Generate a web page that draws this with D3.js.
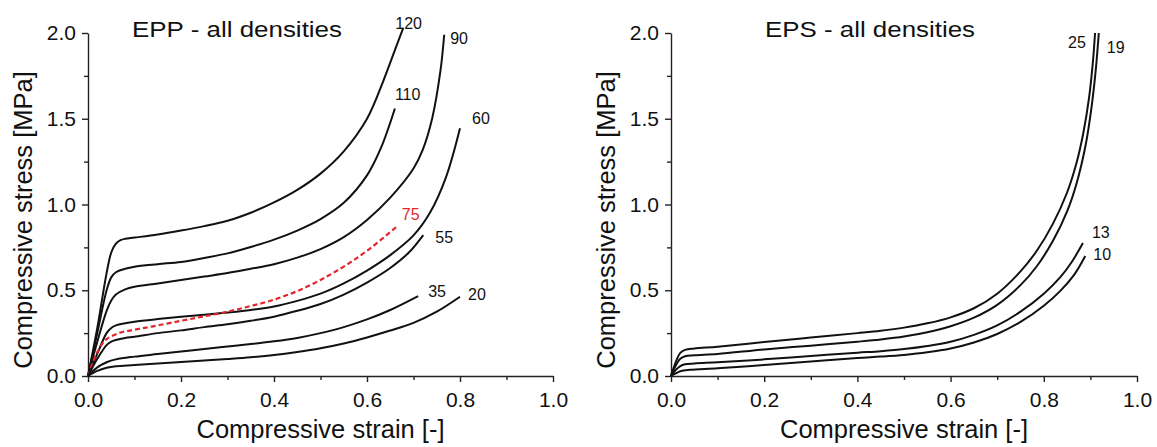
<!DOCTYPE html>
<html>
<head>
<meta charset="utf-8">
<script src="https://cdn.jsdelivr.net/npm/d3@7"></script>
<style>
  body { margin: 0; background: #fff; }
  svg { display: block; }
  text { font-family: "Liberation Sans", Arial, sans-serif; fill: #111; }
</style>
</head>
<body>
<svg id="chart" width="1157" height="447"></svg>
<script>
// Axis ticks
const strainTicks = [0, 0.2, 0.4, 0.6, 0.8, 1.0];
const strainMinorTicks = [0.1, 0.3, 0.5, 0.7, 0.9];
const stressTicks = [0, 0.5, 1.0, 1.5, 2.0];
const stressMinorTicks = [0.25, 0.75, 1.25, 1.75];

// EPP compression curves, [strain, stress MPa], one per density (kg/m3)
const epp120 = [[0,0],[0.02,0.28],[0.04,0.6],[0.05,0.72],[0.06,0.772],[0.07,0.792],[0.08,0.80],[0.1,0.807],[0.15,0.825],[0.2,0.848],[0.25,0.874],[0.3,0.905],[0.35,0.952],[0.4,1.012],[0.45,1.085],[0.5,1.18],[0.55,1.31],[0.6,1.5],[0.635,1.72],[0.66,1.9],[0.678,2.03]];
const epp110 = [[0,0],[0.02,0.25],[0.04,0.5],[0.05,0.575],[0.06,0.605],[0.08,0.625],[0.1,0.637],[0.15,0.652],[0.2,0.665],[0.25,0.688],[0.3,0.715],[0.35,0.752],[0.4,0.795],[0.45,0.848],[0.5,0.915],[0.55,1.01],[0.6,1.17],[0.63,1.33],[0.66,1.56]];
const epp90 = [[0,0],[0.02,0.2],[0.04,0.38],[0.05,0.44],[0.06,0.475],[0.08,0.505],[0.1,0.52],[0.15,0.54],[0.2,0.56],[0.25,0.58],[0.3,0.60],[0.35,0.625],[0.4,0.652],[0.45,0.69],[0.5,0.74],[0.55,0.81],[0.6,0.91],[0.65,1.04],[0.7,1.21],[0.72,1.32],[0.74,1.5],[0.758,1.78],[0.766,1.99]];
const epp60 = [[0,0],[0.02,0.13],[0.04,0.25],[0.05,0.28],[0.06,0.295],[0.08,0.308],[0.1,0.317],[0.15,0.332],[0.2,0.345],[0.25,0.357],[0.3,0.37],[0.35,0.385],[0.4,0.405],[0.45,0.438],[0.5,0.48],[0.55,0.54],[0.6,0.615],[0.65,0.705],[0.7,0.82],[0.735,0.95],[0.77,1.16],[0.8,1.444]];
const epp75 = [[0,0],[0.015,0.11],[0.03,0.185],[0.04,0.215],[0.065,0.249],[0.1,0.27],[0.137,0.288],[0.2,0.322],[0.25,0.348],[0.3,0.375],[0.35,0.408],[0.4,0.445],[0.45,0.495],[0.5,0.56],[0.55,0.638],[0.6,0.73],[0.664,0.871]];
const epp55 = [[0,0],[0.02,0.1],[0.04,0.18],[0.05,0.2],[0.06,0.21],[0.08,0.222],[0.1,0.229],[0.15,0.25],[0.2,0.266],[0.25,0.285],[0.3,0.302],[0.35,0.322],[0.4,0.346],[0.45,0.38],[0.5,0.42],[0.55,0.475],[0.6,0.545],[0.65,0.63],[0.69,0.72],[0.721,0.822]];
const epp35 = [[0,0],[0.02,0.05],[0.04,0.08],[0.06,0.097],[0.1,0.113],[0.15,0.128],[0.2,0.143],[0.25,0.158],[0.3,0.172],[0.35,0.186],[0.4,0.202],[0.45,0.222],[0.5,0.25],[0.55,0.285],[0.6,0.33],[0.65,0.385],[0.71,0.466]];
const epp20 = [[0,0],[0.02,0.03],[0.04,0.048],[0.06,0.057],[0.1,0.064],[0.15,0.073],[0.2,0.081],[0.25,0.09],[0.3,0.099],[0.35,0.109],[0.4,0.122],[0.45,0.14],[0.5,0.162],[0.55,0.19],[0.6,0.225],[0.65,0.265],[0.7,0.31],[0.75,0.375],[0.8,0.462]];

// EPS compression curves
const eps25 = [[0,0],[0.01,0.08],[0.02,0.135],[0.03,0.152],[0.05,0.16],[0.1,0.171],[0.2,0.198],[0.3,0.224],[0.4,0.25],[0.45,0.264],[0.5,0.282],[0.55,0.307],[0.6,0.342],[0.65,0.395],[0.7,0.48],[0.75,0.61],[0.785,0.73],[0.82,0.89],[0.85,1.07],[0.87,1.24],[0.885,1.42],[0.897,1.62],[0.905,1.82],[0.91,2.0]];
const eps19 = [[0,0],[0.01,0.06],[0.02,0.1],[0.03,0.115],[0.05,0.121],[0.1,0.128],[0.2,0.155],[0.3,0.177],[0.4,0.2],[0.45,0.213],[0.5,0.23],[0.55,0.255],[0.6,0.29],[0.65,0.34],[0.7,0.415],[0.75,0.53],[0.785,0.64],[0.82,0.79],[0.85,0.96],[0.87,1.12],[0.89,1.35],[0.903,1.58],[0.912,1.8],[0.918,2.0]];
const eps13 = [[0,0],[0.01,0.035],[0.02,0.058],[0.03,0.068],[0.05,0.073],[0.1,0.08],[0.2,0.097],[0.3,0.117],[0.4,0.136],[0.45,0.145],[0.5,0.157],[0.55,0.175],[0.6,0.2],[0.65,0.24],[0.7,0.295],[0.75,0.375],[0.8,0.48],[0.835,0.575],[0.86,0.665],[0.884,0.775]];
const eps10 = [[0,0],[0.01,0.015],[0.02,0.028],[0.04,0.036],[0.1,0.045],[0.2,0.064],[0.3,0.084],[0.4,0.105],[0.45,0.113],[0.5,0.123],[0.55,0.138],[0.6,0.16],[0.65,0.195],[0.7,0.245],[0.75,0.315],[0.8,0.41],[0.835,0.495],[0.865,0.59],[0.889,0.70]];

const eppSeries = [
  { name: "120", values: epp120 },
  { name: "110", values: epp110 },
  { name: "90",  values: epp90 },
  { name: "60",  values: epp60 },
  { name: "75",  values: epp75, dashed: true },
  { name: "55",  values: epp55 },
  { name: "35",  values: epp35 },
  { name: "20",  values: epp20 }
];
const epsSeries = [
  { name: "25", values: eps25 },
  { name: "19", values: eps19 },
  { name: "13", values: eps13 },
  { name: "10", values: eps10 }
];

// Label placement relative to each curve's last point (px)
const labelOffsets = {
  "120": [-8, 1], "110": [0, -8], "90": [6, 9], "60": [12, -4],
  "75": [5, -7], "55": [12, 8], "35": [10, 1], "20": [8, 3],
  "25": [-27, 15], "19": [8, 20], "13": [9, -5], "10": [8, 4]
};

const svg = d3.select("#chart");
const FONT = '"Liberation Sans", Arial, sans-serif';

function drawPanel(cfg) {
  const x = d3.scaleLinear().domain([0, 1]).range([cfg.left, cfg.right]);
  const y = d3.scaleLinear().domain([0, 2]).range([cfg.bottom, cfg.top]);
  const g = svg.append("g");

  // minor ticks
  g.append("g").attr("transform", `translate(0,${cfg.bottom})`)
    .call(d3.axisBottom(x).tickValues(strainMinorTicks).tickSize(4).tickSizeOuter(0).tickFormat(""))
    .call(a => a.select(".domain").remove());
  g.append("g").attr("transform", `translate(${cfg.left},0)`)
    .call(d3.axisLeft(y).tickValues(stressMinorTicks).tickSize(4).tickSizeOuter(0).tickFormat(""))
    .call(a => a.select(".domain").remove());

  // major axes
  const xa = g.append("g").attr("transform", `translate(0,${cfg.bottom})`)
    .call(d3.axisBottom(x).tickValues(strainTicks).tickSize(6).tickSizeOuter(0).tickPadding(10).tickFormat(d3.format(".1f")));
  const ya = g.append("g").attr("transform", `translate(${cfg.left},0)`)
    .call(d3.axisLeft(y).tickValues(stressTicks).tickSize(6).tickSizeOuter(0).tickPadding(6).tickFormat(d3.format(".1f")));
  g.selectAll(".tick line, .domain").attr("stroke", "#222").attr("stroke-width", 1.4);
  [xa, ya].forEach(a => a.selectAll("text").attr("font-size", 21).attr("font-family", FONT).attr("fill", "#111"));

  // axis titles
  g.append("text").attr("x", (cfg.left + cfg.right) / 2).attr("y", 438)
    .attr("text-anchor", "middle").attr("font-size", 25.5).text("Compressive strain [-]");
  g.append("text").attr("transform", `translate(${cfg.left - 56},220) rotate(-90)`)
    .attr("text-anchor", "middle").attr("font-size", 25.5).text("Compressive stress [MPa]");

  // panel title
  g.append("text").attr("x", cfg.titleX).attr("y", 37)
    .attr("font-size", 22).attr("textLength", 210).attr("lengthAdjust", "spacingAndGlyphs")
    .text(cfg.title);

  const line = d3.line().x(d => x(d[0])).y(d => y(d[1])).curve(d3.curveCatmullRom.alpha(0.5));

  g.selectAll("path.curve").data(cfg.series).join("path")
    .attr("class", "curve")
    .attr("d", d => line(d.values))
    .attr("fill", "none")
    .attr("stroke", d => d.dashed ? "#e3262b" : "#111")
    .attr("stroke-width", d => d.dashed ? 2.2 : 2)
    .attr("stroke-dasharray", d => d.dashed ? "5,3" : null);

  g.selectAll("text.curve-label").data(cfg.series).join("text")
    .attr("class", "curve-label")
    .attr("x", d => x(d.values[d.values.length - 1][0]) + labelOffsets[d.name][0])
    .attr("y", d => y(d.values[d.values.length - 1][1]) + labelOffsets[d.name][1])
    .attr("font-size", 16)
    .style("fill", d => d.dashed ? "#e3262b" : "#111")
    .text(d => d.name);
}

drawPanel({ left: 88, right: 553, top: 33, bottom: 376, title: "EPP - all densities", titleX: 132, series: eppSeries });
drawPanel({ left: 671, right: 1137, top: 33, bottom: 376, title: "EPS - all densities", titleX: 765, series: epsSeries });
</script>
</body>
</html>
